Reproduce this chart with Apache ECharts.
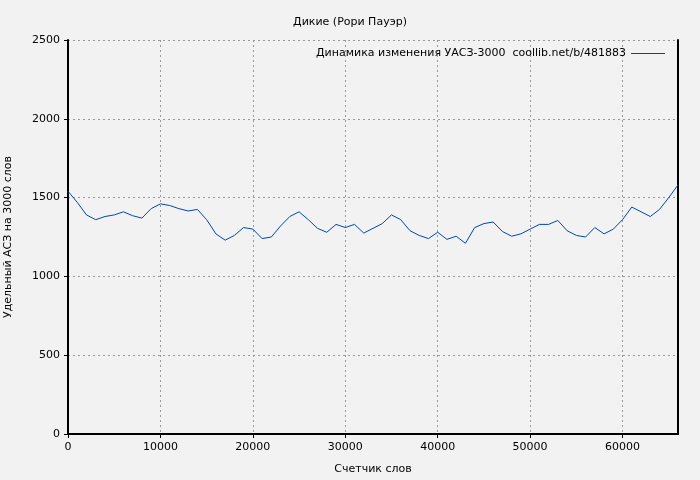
<!DOCTYPE html>
<html><head><meta charset="utf-8">
<script src="https://cdn.jsdelivr.net/npm/echarts@6/dist/echarts.min.js"></script>
<style>html,body{margin:0;padding:0;background:#f2f2f2}#c{width:700px;height:480px}</style>
</head><body><div id="c"></div>
<script>
const xValues = [0,1000,2000,3000,4000,5000,6000,7000,8000,9000,10000,11000,12000,13000,14000,15000,16000,17000,18000,19000,20000,21000,22000,23000,24000,25000,26000,27000,28000,29000,30000,31000,32000,33000,34000,35000,36000,37000,38000,39000,40000,41000,42000,43000,44000,45000,46000,47000,48000,49000,50000,51000,52000,53000,54000,55000,56000,57000,58000,59000,60000,61000,62000,63000,64000,65000,66000];
const yValues = [1540,1470,1390,1360,1380,1390,1410,1385,1370,1430,1460,1450,1430,1415,1425,1360,1270,1230,1260,1310,1300,1240,1250,1320,1380,1410,1360,1305,1280,1330,1310,1330,1275,1305,1335,1390,1360,1290,1260,1240,1280,1235,1255,1210,1310,1335,1345,1285,1255,1270,1300,1330,1330,1355,1290,1260,1250,1310,1270,1300,1360,1440,1410,1380,1425,1500,1580];
const seriesName = 'Динамика изменения УАСЗ-3000  coollib.net/b/481883';
const chart = echarts.init(document.getElementById('c'));
const font = 'DejaVu Sans';
const plain = v => String(v);
chart.setOption({
  backgroundColor:'#f2f2f2',
  animation:false,
  textStyle:{fontFamily:font},
  title:{text:'Дикие (Рори Пауэр)',left:'center',top:12,textStyle:{fontSize:11,fontWeight:'normal',color:'#000',fontFamily:font}},
  legend:{right:30,top:43,itemWidth:34,itemHeight:1,itemGap:8,icon:'rect',align:'right',textStyle:{fontSize:11,color:'#000',fontFamily:font},data:[seriesName]},
  grid:{left:68,right:22,top:40,bottom:46,containLabel:false,outerBoundsMode:'none'},
  xAxis:{type:'value',min:0,max:66000,interval:10000,name:'Счетчик слов',nameLocation:'middle',nameGap:30,
    nameTextStyle:{fontSize:11,color:'#000'},
    axisLine:{lineStyle:{color:'#000',width:2}},axisTick:{show:true,length:4,lineStyle:{color:'#000'}},
    axisLabel:{color:'#000',fontSize:11,showMaxLabel:false,formatter:plain},
    splitLine:{show:true,lineStyle:{color:'#999',type:[2,3]}}},
  yAxis:[{type:'value',min:0,max:2500,interval:500,name:'Удельный АСЗ на 3000 слов',nameLocation:'middle',nameGap:54,
    nameTextStyle:{fontSize:11,color:'#000'},
    axisLine:{show:true,lineStyle:{color:'#000',width:2}},axisTick:{show:true,length:4,lineStyle:{color:'#000'}},
    axisLabel:{color:'#000',fontSize:11,formatter:plain},
    splitLine:{show:true,lineStyle:{color:'#999',type:[2,3]}}},
    {type:'value',position:'right',min:0,max:2500,interval:500,
    axisLine:{show:true,lineStyle:{color:'#000',width:2}},axisTick:{show:false},axisLabel:{show:false},splitLine:{show:false}}],
  series:[{name:seriesName,type:'line',data:xValues.map((x,i)=>[x,yValues[i]]),showSymbol:false,
    lineStyle:{color:'#0047b3',width:1},itemStyle:{color:'#0047b3'}}]
});
</script></body></html>
